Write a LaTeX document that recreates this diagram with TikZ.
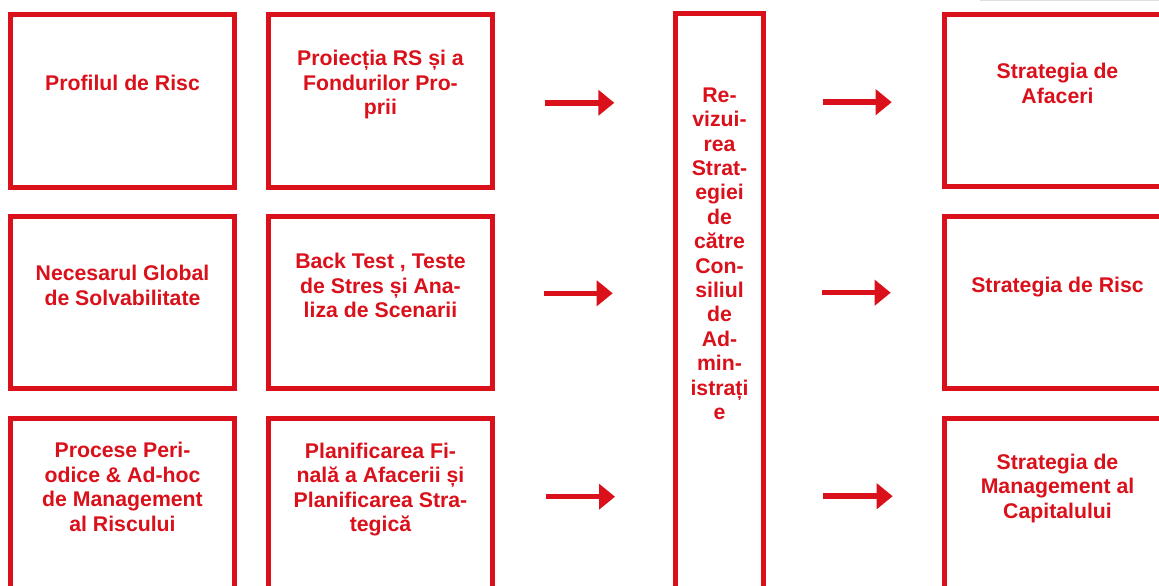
\documentclass[tikz,border=0pt]{standalone}
\usepackage{fontspec}
\setmainfont{Liberation Sans}
\usetikzlibrary{arrows.meta}
\definecolor{brandred}{RGB}{218,16,26}
\tikzset{
  panel/.style={draw=brandred, line width=5pt, fill=white, inner sep=0pt},
  label/.style={text=brandred, font=\bfseries\fontsize{21.25}{24.6}\selectfont,
    align=center, inner sep=0pt, anchor=north},
  flow/.style={draw=brandred, line width=5.5pt, line cap=butt,
    -{Triangle[length=16pt,width=25pt]}}
}
\begin{document}
\begin{tikzpicture}[x=1pt, y=-1pt]
\useasboundingbox (0,0) rectangle (1159,586);
\clip (0,0) rectangle (1159,586);
\fill[white] (0,0) rectangle (1159,586);
\draw[gray!25, line width=0.6pt] (980,0.3) -- (1159,0.3);

% input panels, two columns by three rows
\node[panel, minimum width=223.5pt, minimum height=172.5pt] (a1) at (122.25,101.25) {};
\node[panel, minimum width=224pt, minimum height=172.5pt] (b1) at (380.5,101.25) {};
\node[panel, minimum width=223.5pt, minimum height=172pt] (a2) at (122.25,302.5) {};
\node[panel, minimum width=224pt, minimum height=172pt] (b2) at (380.5,302.5) {};
\node[panel, minimum width=223.5pt, minimum height=174pt] (a3) at (122.25,505) {};
\node[panel, minimum width=224pt, minimum height=174pt] (b3) at (380.5,505) {};

% board review column
\node[panel, minimum width=88pt, minimum height=580pt] (m) at (719.5,303.5) {};

% resulting strategies
\node[panel, minimum width=228pt, minimum height=171.5pt] (r1) at (1058,100.75) {};
\node[panel, minimum width=228pt, minimum height=172pt] (r2) at (1058,302.5) {};
\node[panel, minimum width=228pt, minimum height=174pt] (r3) at (1058,505) {};

% texts
\node[label] (ta1) at (122.5,75) {Profilul de Risc};
\node[label] (tb1) at (380.5,50) {Proiecția RS și a\\Fondurilor Pro-\\prii};
\node[label] (ta2) at (122.5,265) {Necesarul Global\\de Solvabilitate};
\node[label] (tb2) at (380.5,253) {Back Test , Teste\\de Stres și Ana-\\liza de Scenarii};
\node[label] (ta3) at (122.5,442) {Procese Peri-\\odice \& Ad-hoc\\de Management\\al Riscului};
\node[label] (tb3) at (380.5,442.5) {Planificarea Fi-\\nală a Afacerii și\\Planificarea Stra-\\tegică};
\node[label, font=\bfseries\fontsize{21.25}{24.4}\selectfont] (tm) at (719.5,87.5)
  {Re-\\vizui-\\rea\\Strat-\\egiei\\de\\către\\Con-\\siliul\\de\\Ad-\\min-\\istrați\\e};
\node[label] (tr1) at (1057.5,63) {Strategia de\\Afaceri};
\node[label] (tr2) at (1057.5,277) {Strategia de Risc};
\node[label] (tr3) at (1057.5,453.5) {Strategia de\\Management al\\Capitalului};

% arrow end points
\coordinate (l1s) at (545,102.8);  \coordinate (l1e) at (614.3,102.8);
\coordinate (l2s) at (544,293.3);  \coordinate (l2e) at (612.7,293.3);
\coordinate (l3s) at (546,496.7);  \coordinate (l3e) at (615,496.7);
\coordinate (k1s) at (822.7,102.2); \coordinate (k1e) at (891.7,102.2);
\coordinate (k2s) at (821.7,292.7); \coordinate (k2e) at (890.7,292.7);
\coordinate (k3s) at (823.3,496.2); \coordinate (k3e) at (892.7,496.2);

\draw[flow] (l1s) -- (l1e);
\draw[flow] (l2s) -- (l2e);
\draw[flow] (l3s) -- (l3e);
\draw[flow] (k1s) -- (k1e);
\draw[flow] (k2s) -- (k2e);
\draw[flow] (k3s) -- (k3e);
\end{tikzpicture}
\end{document}
